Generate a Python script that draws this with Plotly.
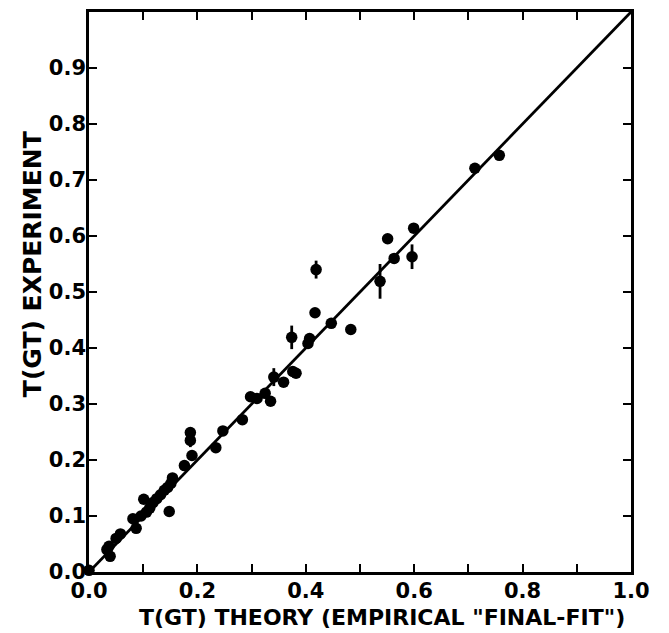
import plotly.graph_objects as go

# Data
theory = [0.000, 0.033, 0.037, 0.039, 0.050, 0.058, 0.081, 0.087, 0.096, 0.101,
          0.106, 0.112, 0.118, 0.125, 0.132, 0.139, 0.145, 0.151, 0.154, 0.148,
          0.176, 0.187, 0.187, 0.190, 0.234, 0.247, 0.283, 0.298, 0.310, 0.325,
          0.335, 0.341, 0.359, 0.376, 0.382, 0.374, 0.404, 0.407, 0.417, 0.419,
          0.447, 0.483, 0.537, 0.551, 0.563, 0.596, 0.599, 0.712, 0.757]
experiment = [0.003, 0.040, 0.046, 0.028, 0.060, 0.068, 0.095, 0.078, 0.100, 0.130,
              0.107, 0.114, 0.124, 0.131, 0.138, 0.146, 0.151, 0.158, 0.168, 0.108,
              0.190, 0.249, 0.235, 0.208, 0.222, 0.252, 0.272, 0.313, 0.310, 0.319,
              0.305, 0.348, 0.339, 0.358, 0.355, 0.419, 0.408, 0.417, 0.463, 0.540,
              0.444, 0.433, 0.519, 0.595, 0.560, 0.563, 0.614, 0.721, 0.744]
errors = [0, 0, 0, 0, 0, 0, 0, 0, 0, 0,
          0, 0, 0, 0, 0, 0, 0, 0, 0, 0,
          0, 0, 0.012, 0, 0, 0, 0, 0, 0, 0,
          0, 0.016, 0, 0, 0, 0.021, 0, 0, 0, 0.016,
          0, 0, 0.031, 0, 0, 0.022, 0, 0, 0]

fit_x = [0.0, 1.0]
fit_y = [0.0, 1.0]

x_ticks = [0.0, 0.1, 0.2, 0.3, 0.4, 0.5, 0.6, 0.7, 0.8, 0.9, 1.0]
x_labels = ["0.0", "", "0.2", "", "0.4", "", "0.6", "", "0.8", "", "1.0"]
y_ticks = [0.0, 0.1, 0.2, 0.3, 0.4, 0.5, 0.6, 0.7, 0.8, 0.9, 1.0]
y_labels = ["0.0", "0.1", "0.2", "0.3", "0.4", "0.5", "0.6", "0.7", "0.8", "0.9", ""]

x_title = 'T(GT) THEORY (EMPIRICAL "FINAL-FIT")'
y_title = "T(GT) EXPERIMENT"

FONT = "DejaVu Sans"

fig = go.Figure()
fig.add_trace(go.Scatter(
    x=fit_x, y=fit_y, mode="lines",
    line=dict(color="black", width=2.8),
    hoverinfo="skip", showlegend=False, cliponaxis=False))
fig.add_trace(go.Scatter(
    x=theory, y=experiment, mode="markers",
    marker=dict(color="black", size=11.5, line=dict(width=0)),
    error_y=dict(type="data", array=errors, visible=True,
                 color="black", thickness=2.8, width=0),
    showlegend=False, cliponaxis=False))

axis_common = dict(
    showline=True, linecolor="black", linewidth=2.5, mirror="ticks",
    ticks="inside", ticklen=8, tickwidth=2, tickcolor="black",
    showgrid=False, zeroline=False,
    tickfont=dict(family=FONT, size=21, color="black", weight="bold"),
)

fig.update_xaxes(range=[0, 1.0], tickmode="array", tickvals=x_ticks,
                 ticktext=x_labels, ticklabelstandoff=-2, **axis_common)
fig.update_yaxes(range=[0, 1.0], tickmode="array", tickvals=y_ticks,
                 ticktext=y_labels, ticklabelstandoff=-4, **axis_common)

fig.add_annotation(text=x_title, xref="paper", yref="paper",
                   x=0.54, y=-0.081, xanchor="center", yanchor="middle",
                   showarrow=False,
                   font=dict(family=FONT, size=22, color="black", weight="bold"))
fig.add_annotation(text=y_title, xref="paper", yref="paper",
                   x=-0.103, y=0.55, xanchor="center", yanchor="middle",
                   textangle=-90, showarrow=False,
                   font=dict(family=FONT, size=25, color="black", weight="bold"))

fig.update_layout(
    width=669, height=633,
    margin=dict(l=81, r=46, t=1, b=69),
    paper_bgcolor="white", plot_bgcolor="white",
)

fig.write_html("out.html")
